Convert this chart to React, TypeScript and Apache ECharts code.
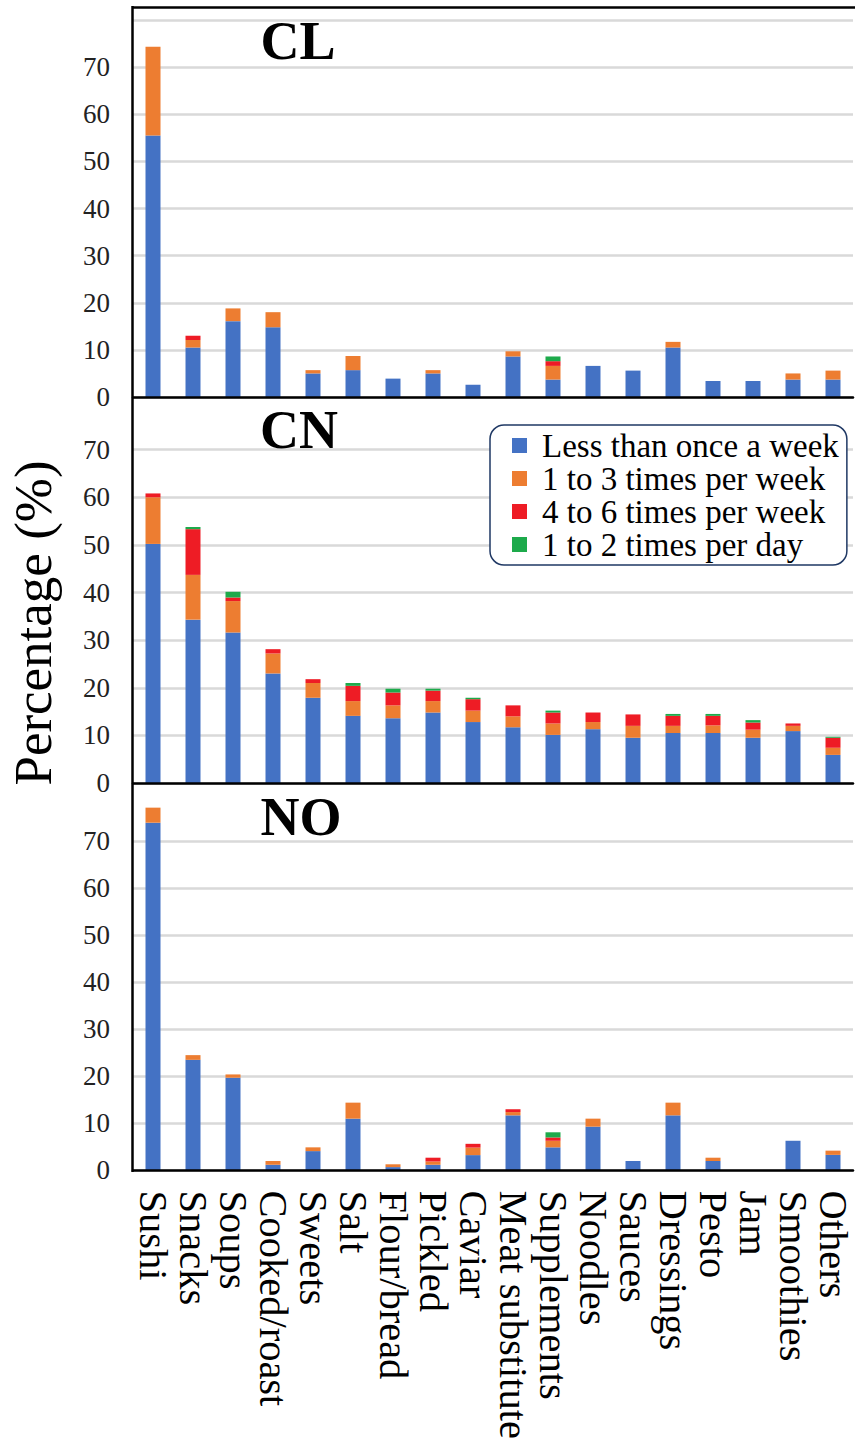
import React, { useEffect, useRef } from "react";
import * as echarts from "echarts";

const categories = [
  "Sushi", "Snacks", "Soups", "Cooked/roast", "Sweets", "Salt", "Flour/bread", "Pickled", "Caviar",
  "Meat substitute", "Supplements", "Noodles", "Sauces", "Dressings", "Pesto", "Jam", "Smoothies", "Others",
];

const seriesNames = [
  "Less than once a week",
  "1 to 3 times per week",
  "4 to 6 times per week",
  "1 to 2 times per day",
];
const seriesColors = ["#4472C4", "#ED7D31", "#EE1C25", "#1DAA4B"];

const panelNames = ["CL", "CN", "NO"];

// CL
const clLess = [55.5, 10.5, 16.1, 14.8, 5.0, 5.7, 3.9, 5.0, 2.6, 8.6, 3.7, 6.6, 5.6, 10.5, 3.4, 3.4, 3.7, 3.7];
const clWeek13 = [18.8, 1.6, 2.7, 3.2, 0.7, 3.0, 0, 0.7, 0, 1.1, 2.9, 0, 0, 1.2, 0, 0, 1.3, 1.9];
const clWeek46 = [0, 0.9, 0, 0, 0, 0, 0, 0, 0, 0, 1.0, 0, 0, 0, 0, 0, 0, 0];
const clDaily = [0, 0, 0, 0, 0, 0, 0, 0, 0, 0, 1.0, 0, 0, 0, 0, 0, 0, 0];

// CN
const cnLess = [50.2, 34.3, 31.6, 23.0, 17.9, 14.1, 13.6, 14.8, 12.8, 11.7, 10.1, 11.3, 9.5, 10.5, 10.5, 9.5, 10.9, 5.9];
const cnWeek13 = [9.8, 9.4, 6.6, 4.2, 3.1, 3.1, 2.7, 2.4, 2.4, 2.3, 2.4, 1.5, 2.5, 1.5, 1.6, 1.7, 1.1, 1.5];
const cnWeek46 = [0.8, 9.6, 0.75, 0.9, 0.8, 3.2, 2.7, 2.2, 2.4, 2.3, 2.3, 2.0, 2.4, 2.1, 2.0, 1.5, 0.5, 2.1];
const cnDaily = [0, 0.45, 1.2, 0, 0, 0.6, 0.8, 0.4, 0.3, 0, 0.4, 0, 0, 0.4, 0.4, 0.5, 0, 0.2];

// NO
const noLess = [73.9, 23.5, 19.7, 1.2, 4.1, 11.0, 0.7, 1.2, 3.25, 11.7, 4.9, 9.3, 2.0, 11.7, 2.0, 0, 6.3, 3.3];
const noWeek13 = [3.2, 1.0, 0.7, 0.8, 0.8, 3.4, 0.6, 0.7, 1.6, 0.7, 1.4, 1.7, 0, 2.7, 0.7, 0, 0, 0.9];
const noWeek46 = [0, 0, 0, 0, 0, 0, 0, 0.8, 0.8, 0.6, 0.7, 0, 0, 0, 0, 0, 0, 0];
const noDaily = [0, 0, 0, 0, 0, 0, 0, 0, 0, 0, 1.1, 0, 0, 0, 0, 0, 0, 0];

const panelData = [
  [clLess, clWeek13, clWeek46, clDaily],
  [cnLess, cnWeek13, cnWeek46, cnDaily],
  [noLess, noWeek13, noWeek46, noDaily],
];

const FONT = "Liberation Serif, Times New Roman, serif";

export default function App() {
  const ref = useRef<HTMLDivElement>(null);

  useEffect(() => {
    if (!ref.current) return;
    const chart = echarts.init(ref.current, null, { renderer: "svg" });

    const grids = [
      { left: 133, right: 2, top: 20, bottom: 1442 - 397 },
      { left: 133, right: 2, top: 402, bottom: 1442 - 783 },
      { left: 133, right: 2, top: 794, bottom: 1442 - 1171 },
    ];

    const xAxes = grids.map((_, i) => ({
      type: "category",
      gridIndex: i,
      data: categories,
      axisTick: { show: false },
      axisLine: { show: true, lineStyle: { color: "#000", width: 2.5 } },
      axisLabel: {
        show: i === 2,
        interval: 0,
        rotate: -90,
        margin: 20,
        fontFamily: FONT,
        fontSize: 40.5,
        color: "#000",
      },
      z: 5,
    }));

    const yAxes = grids.map((_, i) => ({
      type: "value",
      gridIndex: i,
      min: 0,
      max: 80,
      interval: 10,
      axisLine: { show: false },
      axisTick: { show: false },
      axisLabel: {
        fontFamily: FONT,
        fontSize: 27,
        color: "#222",
        margin: 23,
        formatter: (v: number) => (v >= 80 ? "" : String(v)),
      },
      splitLine: {
        show: true,
        showMaxLine: i === 0,
        lineStyle: { color: "#D9D9D9", width: 2.5 },
      },
    }));

    const series: any[] = [];
    panelData.forEach((sets, gi) => {
      sets.forEach((vals, si) => {
        series.push({
          type: "bar",
          name: seriesNames[si],
          xAxisIndex: gi,
          yAxisIndex: gi,
          stack: "panel" + gi,
          barWidth: 15,
          data: vals,
          itemStyle: { color: seriesColors[si] },
          z: 3,
        });
      });
    });

    const titleY = [41, 430, 817];
    const titleX = [298, 299, 301];

    const graphic: any[] = [
      {
        type: "text",
        x: 33,
        y: 623,
        rotation: Math.PI / 2,
        style: {
          text: "Percentage (%)",
          fontFamily: FONT,
          fontSize: 53,
          fill: "#000",
          align: "center",
          verticalAlign: "middle",
        },
      },
      ...panelNames.map((n, i) => ({
        type: "text",
        x: titleX[i],
        y: titleY[i],
        z: 10,
        style: {
          text: n,
          fontFamily: FONT,
          fontWeight: "bold",
          fontSize: 54,
          fill: "#000",
          align: "center",
          verticalAlign: "middle",
        },
      })),
      {
        type: "line",
        z: 20,
        shape: { x1: 132.5, y1: 6, x2: 132.5, y2: 1172 },
        style: { stroke: "#000", lineWidth: 2.5 },
      },
      {
        type: "line",
        z: 20,
        shape: { x1: 132, y1: 7.5, x2: 855, y2: 7.5 },
        style: { stroke: "#000", lineWidth: 2.5 },
      },
    ];

    chart.setOption({
      animation: false,
      backgroundColor: "#fff",
      grid: grids,
      xAxis: xAxes,
      yAxis: yAxes,
      series,
      graphic,
      legend: {
        data: seriesNames,
        orient: "vertical",
        left: 490,
        top: 425,
        padding: [4, 8, 4, 22],
        itemWidth: 15,
        itemHeight: 15,
        itemGap: 0,
        icon: "rect",
        backgroundColor: "#fff",
        borderColor: "#1F3864",
        borderWidth: 1.5,
        borderRadius: 14,
        selectedMode: false,
        textStyle: {
          fontFamily: FONT,
          fontSize: 33,
          lineHeight: 33,
          color: "#000",
          padding: [0, 0, 0, 10],
        },
        z: 30,
      },
    });

    return () => chart.dispose();
  }, []);

  return (
    <div
      ref={ref}
      style={{ position: "absolute", left: 0, top: 0, width: 855, height: 1442 }}
    />
  );
}
